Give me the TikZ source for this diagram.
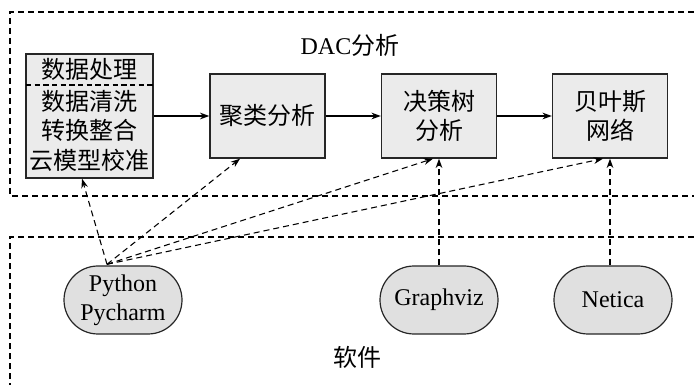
\documentclass[tikz,border=0pt]{standalone}
\usepackage{fontspec}
\setmainfont{Liberation Serif}
\newfontfamily\cjk{Noto Sans CJK SC}
\usetikzlibrary{arrows.meta}
\begin{document}
\begin{tikzpicture}[x=0.75pt,y=-0.75pt,
  every node/.style={font=\fontsize{18}{21.8}\selectfont},
  box/.style={draw=black!85,line width=1pt,fill=black!8,minimum width=86.25pt,minimum height=63pt,align=center,inner sep=0pt},
  soft/.style={draw=black!85,line width=0.9pt,fill=black!12,minimum width=88.5pt,minimum height=51pt,rounded corners=25.5pt,align=center,inner sep=0pt},
  frame/.style={line width=0.9pt,dash pattern=on 4.5pt off 3pt},
  link/.style={line width=0.8pt,dash pattern=on 4.5pt off 3pt,-{Stealth[length=7pt,width=5pt]}},
  flow/.style={line width=0.9pt,-{Stealth[length=7pt,width=5pt]}},
  plain/.style={inner sep=0pt}]
\useasboundingbox (0,0) rectangle (694,385);
% frames
\draw[frame] (694,12) -- (10,12) -- (10,196) -- (694,196);
\draw[frame] (694,237) -- (10,237) -- (10,385);
\node[plain] (t1) at (350,45) {DAC{\cjk 分析}};
\node[plain] (t2) at (357,357) {\cjk 软件};
% data processing box
\node[box,minimum width=95.25pt,minimum height=93pt] (dp) at (89.5,116) {};
\draw[line width=0.8pt,dash pattern=on 4pt off 2.5pt] (26,85) -- (153,85);
\node[plain] (dph) at (89.5,69) {\cjk 数据处理};
\node[plain] (dp1) at (89.5,101) {\cjk 数据清洗};
\node[plain] (dp2) at (89.5,130) {\cjk 转换整合};
\node[plain] (dp3) at (89.5,160) {\cjk 云模型校准};
% analysis boxes
\node[box] (cl) at (267.5,116) {\cjk 聚类分析};
\node[box] (dt) at (439,116) {\cjk 决策树\\\cjk 分析};
\node[box] (by) at (610,116) {\cjk 贝叶斯\\\cjk 网络};
\draw[flow] (dp.east) -- (cl.west);
\draw[flow] (cl.east) -- (dt.west);
\draw[flow] (dt.east) -- (by.west);
% software
\node[soft] (py) at (123,300) {Python\\Pycharm};
\node[soft] (gv) at (439,300) {Graphviz};
\node[soft] (ne) at (613,300) {Netica};
\coordinate (ps) at ([xshift=-12pt,yshift=0.8pt]py.north);
\draw[link] (ps) -- ([xshift=-5.6pt]dp.south);
\draw[link] (ps) -- ([xshift=-20.6pt]cl.south);
\draw[link] (ps) -- ([xshift=-4.5pt]dt.south);
\draw[link] (ps) -- ([xshift=-5.25pt]by.south);
\draw[link] (gv.north) -- (dt.south);
\draw[link] (by.south |- ne.north) -- (by.south);
\end{tikzpicture}
\end{document}
